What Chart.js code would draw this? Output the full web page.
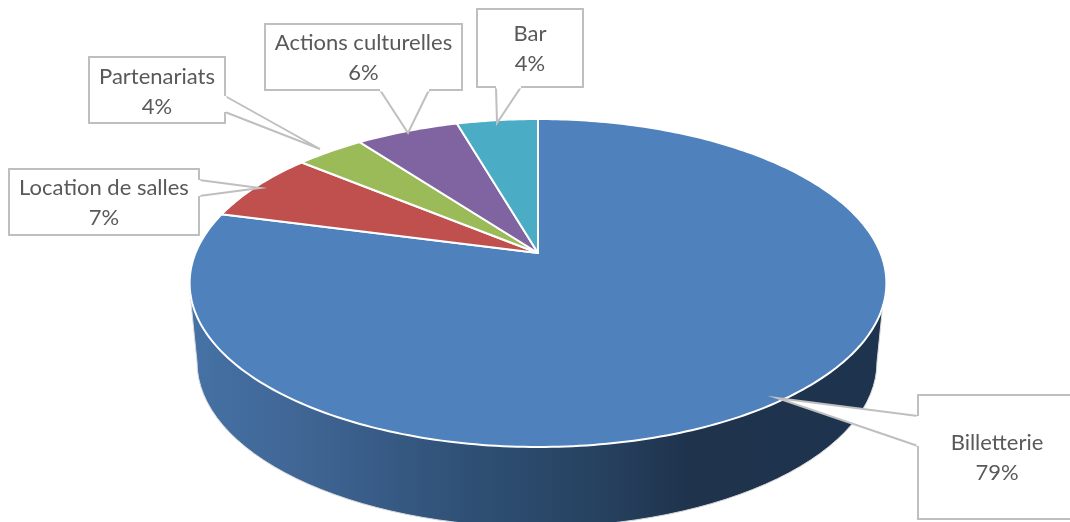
<!DOCTYPE html>
<html>
<head>
<meta charset="utf-8">
<style>
  html, body { margin: 0; padding: 0; background: #fff; }
  canvas { display: block; }
</style>
<script src="https://cdn.jsdelivr.net/npm/chart.js@4"></script>
</head>
<body>
<canvas id="pieChart" width="1070" height="522"></canvas>
<script>
const categories = ['Billetterie', 'Location de salles', 'Partenariats', 'Actions culturelles', 'Bar'];
const shares = [79.11, 6.9, 3.8, 5.7, 4.49];
const sliceColors = ['#4f81bd', '#c0504d', '#9bbb59', '#8064a2', '#4bacc6'];

// callout boxes, same order as categories: box, then the wedge going to the slice
const callouts = [
  { x: 918, y: 395, w: 170, h: 124, textX: 997, textY: 443, wedge: [[918, 416], [777, 398], [918, 446]] },
  { x: 9, y: 169, w: 190, h: 66, textX: 104, textY: 188, wedge: [[199, 180], [260, 188], [199, 196]] },
  { x: 89, y: 57, w: 136, h: 66, textX: 157, textY: 77, wedge: [[225, 96], [320, 149], [225, 112]] },
  { x: 265, y: 24, w: 197, h: 66, textX: 363.5, textY: 43, wedge: [[380, 90], [408, 133], [429, 90]] },
  { x: 477, y: 9, w: 106, h: 78, textX: 530, textY: 34, wedge: [[496, 87], [497, 123], [521, 87]] },
];

// the pie is tilted: unit circle -> screen with a little perspective
const APEX = { x: 538, y: 253 };
const PERSP = { bx: 342.5, ay: 158.5, k: 0.183 };
const BASE = { x: 537, y: 362, rx: 340, ry: 165 };

function project(angle) {
  const u = Math.cos(angle), v = Math.sin(angle);
  const w = 1 - PERSP.k * v;
  return { x: APEX.x + PERSP.bx * u / w, y: APEX.y + PERSP.ay * v / w };
}

function drawSide(ctx) {
  const grad = ctx.createLinearGradient(197, 0, 877, 0);
  grad.addColorStop(0, '#4571a4');
  grad.addColorStop(0.16, '#3f6594');
  grad.addColorStop(0.4, '#2f5075');
  grad.addColorStop(0.6, '#26415f');
  grad.addColorStop(0.72, '#1f334d');
  grad.addColorStop(1, '#1e334d');
  ctx.beginPath();
  ctx.moveTo(189, 283);
  ctx.lineTo(BASE.x - BASE.rx, BASE.y);
  ctx.ellipse(BASE.x, BASE.y, BASE.rx, BASE.ry, 0, Math.PI, 0, true);
  ctx.lineTo(885, 283);
  ctx.closePath();
  ctx.fillStyle = grad;
  ctx.fill();
  ctx.strokeStyle = '#d9d9d9';
  ctx.lineWidth = 1;
  ctx.stroke();
}

function drawSlice(ctx, arc) {
  const steps = Math.max(4, Math.ceil((arc.endAngle - arc.startAngle) * 60));
  ctx.beginPath();
  ctx.moveTo(APEX.x, APEX.y);
  for (let i = 0; i <= steps; i++) {
    const p = project(arc.startAngle + (arc.endAngle - arc.startAngle) * i / steps);
    ctx.lineTo(p.x, p.y);
  }
  ctx.closePath();
  ctx.fillStyle = arc.options.backgroundColor;
  ctx.fill();
  ctx.strokeStyle = arc.options.borderColor;
  ctx.lineWidth = arc.options.borderWidth;
  ctx.lineJoin = 'round';
  ctx.stroke();
}

function drawCallout(ctx, c, lines) {
  ctx.beginPath();
  ctx.rect(c.x, c.y, c.w, c.h);
  ctx.fillStyle = '#fff';
  ctx.fill();
  ctx.strokeStyle = '#bfbfbf';
  ctx.lineWidth = 2;
  ctx.stroke();
  // wedge drawn after the box so it opens into it
  ctx.beginPath();
  ctx.moveTo(c.wedge[0][0], c.wedge[0][1]);
  ctx.lineTo(c.wedge[1][0], c.wedge[1][1]);
  ctx.lineTo(c.wedge[2][0], c.wedge[2][1]);
  ctx.fill();
  ctx.stroke();
  ctx.beginPath();
  ctx.moveTo(c.wedge[0][0], c.wedge[0][1]);
  ctx.lineTo(c.wedge[2][0], c.wedge[2][1]);
  ctx.strokeStyle = '#fff';
  ctx.lineWidth = 3;
  ctx.stroke();

  ctx.fillStyle = '#595959';
  ctx.font = '22px Lato';
  ctx.textAlign = 'center';
  ctx.textBaseline = 'middle';
  ctx.fillText(lines[0], c.textX, c.textY);
  ctx.fillText(lines[1], c.textX, c.textY + 30);
}

const tiltedPie = {
  id: 'tiltedPie',
  beforeDatasetDraw(chart, args) {
    const ctx = chart.ctx;
    ctx.save();
    drawSide(ctx);
    args.meta.data.forEach(arc => drawSlice(ctx, arc));
    ctx.restore();
    return false;
  },
  afterDatasetsDraw(chart) {
    const ctx = chart.ctx;
    ctx.save();
    callouts.forEach((c, i) => {
      drawCallout(ctx, c, [categories[i], Math.round(shares[i]) + '%']);
    });
    ctx.restore();
  }
};

new Chart(document.getElementById('pieChart'), {
  type: 'pie',
  data: {
    labels: categories,
    datasets: [{
      data: shares,
      backgroundColor: sliceColors,
      borderColor: '#fff',
      borderWidth: 2,
    }]
  },
  options: {
    responsive: false,
    animation: false,
    plugins: {
      legend: { display: false },
      tooltip: { enabled: false }
    }
  },
  plugins: [tiltedPie]
});
</script>
</body>
</html>
